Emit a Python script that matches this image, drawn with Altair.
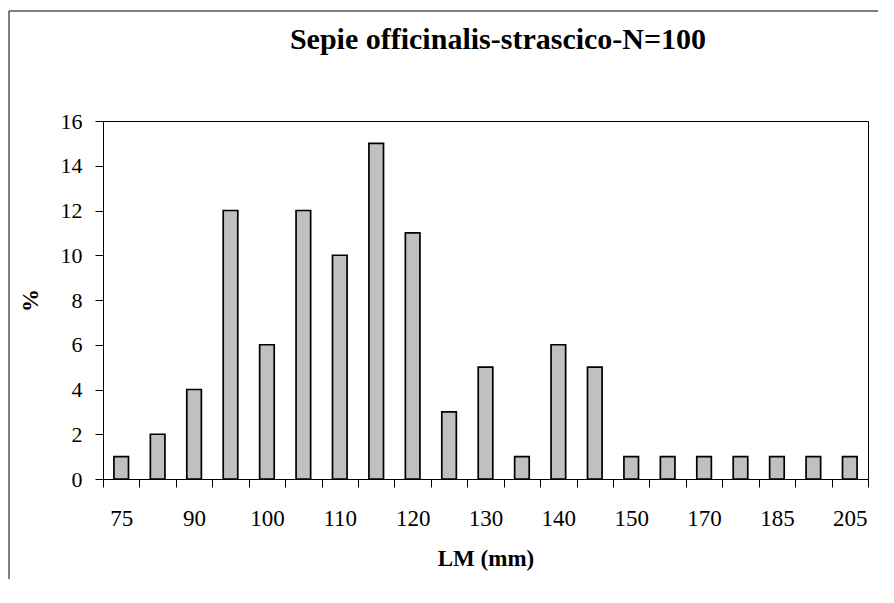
import altair as alt
import pandas as pd

# Length classes (mm); only every other class is labelled on the axis
classes = ["75", "85", "90", "95", "100", "105", "110", "115", "120", "125", "130",
           "135", "140", "145", "150", "160", "170", "180", "185", "195", "205"]
labelled = ["75", "90", "100", "110", "120", "130", "140", "150", "170", "185", "205"]
percent = [1, 2, 4, 12, 6, 12, 10, 15, 11, 3, 5, 1, 6, 5, 1, 1, 1, 1, 1, 1, 1]
title_text = "Sepie officinalis-strascico-N=100"

df = pd.DataFrame({"LM": classes, "pct": percent})

FONT = "Liberation Serif"
label_list = "[" + ",".join("'%s'" % v for v in labelled) + "]"

bars = alt.Chart(df).mark_bar(
    fill="#C0C0C0", stroke="black", strokeWidth=1.7, width={"band": 0.4}
).encode(
    x=alt.X("LM:O", sort=classes,
            scale=alt.Scale(paddingInner=0, paddingOuter=0),
            axis=alt.Axis(title="LM (mm)", labelAngle=0, tickBand="extent",
                          labelExpr="indexof(" + label_list + ", datum.label) >= 0 ? datum.label : ''",
                          tickSize=8, labelPadding=20, titlePadding=17,
                          domainColor="black", tickColor="black", domainWidth=1, tickWidth=1,
                          labelFont=FONT, labelFontSize=23, labelColor="black",
                          titleFont=FONT, titleFontSize=23, titleFontWeight="bold",
                          titleColor="black", labelOverlap=False)),
    y=alt.Y("pct:Q", scale=alt.Scale(domain=[0, 16], nice=False),
            axis=alt.Axis(title="%", values=list(range(0, 17, 2)), grid=False,
                          tickSize=8, labelPadding=13, titlePadding=18,
                          domainColor="black", tickColor="black", domainWidth=1, tickWidth=1,
                          labelFont=FONT, labelFontSize=22, labelColor="black",
                          titleFont=FONT, titleFontSize=23, titleFontWeight="bold",
                          titleColor="black")),
)

title_df = pd.DataFrame({"t": [title_text]})
title = alt.Chart(title_df).mark_text(
    font=FONT, fontSize=30, fontWeight="bold", color="black",
    align="center", baseline="alphabetic"
).encode(text="t:N", x=alt.value(395), y=alt.value(-72))

frame_df = pd.DataFrame({"k": [0]})
frame_left = alt.Chart(frame_df).mark_rule(color="black", strokeWidth=1).encode(
    x=alt.value(-94), y=alt.value(-110), y2=alt.value(600))
frame_top = alt.Chart(frame_df).mark_rule(color="black", strokeWidth=1).encode(
    x=alt.value(-94), x2=alt.value(900), y=alt.value(-110))

chart = alt.layer(bars, title, frame_left, frame_top).properties(
    width=765, height=358,
    background="white",
    padding={"left": 95, "top": 113, "right": 10, "bottom": 100},
    autosize=alt.AutoSizeParams(type="none"),
).configure_view(stroke="black", strokeWidth=1)

chart.save("out.html", embed_options={"renderer": "svg", "actions": False})
